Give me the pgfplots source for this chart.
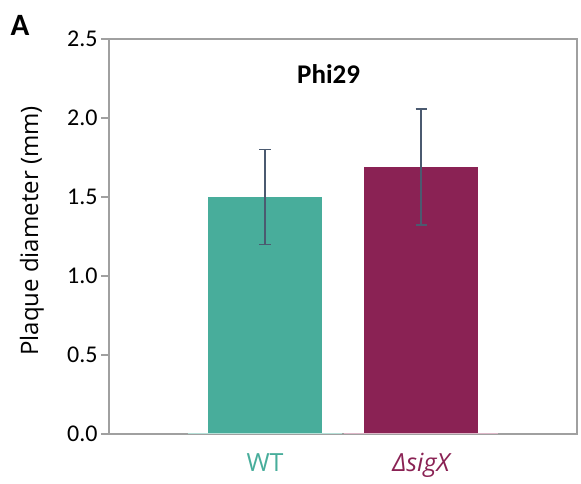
\documentclass[border=0pt]{standalone}
\usepackage{fontspec}
\setmainfont{Open Sans}
\newfontfamily\calib{Carlito}
\usepackage{pgfplots}
\pgfplotsset{compat=1.18}
\definecolor{wtcol}{HTML}{48AD9B}
\definecolor{sigcol}{HTML}{8A2254}
\definecolor{wtlight}{HTML}{B7E0D8}
\definecolor{siglight}{HTML}{DDB8C8}
\definecolor{axgray}{HTML}{A0A0A0}
\definecolor{errcol}{HTML}{4B5A70}
\begin{document}
\begin{tikzpicture}[x=1bp,y=1bp]
\begin{axis}[
  at={(0,0)}, anchor=south west,
  scale only axis, width=468bp, height=395bp,
  xmin=-1, xmax=2, ymin=0, ymax=2.5,
  axis line style={axgray, line width=1.2bp},
  xtick={0,1}, xticklabels={{\color{wtcol}WT},{\color{sigcol}\itshape ΔsigX}},
  xtick style={draw=none},
  xticklabel style={font=\fontsize{25bp}{30bp}\selectfont, yshift=-8bp},
  ytick={0,0.5,1,1.5,2,2.5},
  ytick pos=left, tick align=outside, major tick length=8bp,
  ytick style={axgray, line width=1.2bp},
  yticklabel style={font=\calib\fontsize{24bp}{28bp}\selectfont, /pgf/number format/.cd, fixed, fixed zerofill, precision=1, assume math mode=true},
  ylabel={Plaque diameter (mm)},
  ylabel style={font=\fontsize{24bp}{29bp}\selectfont, at={(axis description cs:-0.165,0.514)}, anchor=center},
  ybar, bar width=0.731, bar shift=0pt,
  clip=false,
]
\addplot[draw=none, fill=wtcol, bar shift=0pt, error bars/.cd, y dir=both, y explicit,
  error bar style={errcol, line width=1.2bp},
  error mark options={errcol, rotate=90, mark size=5.5bp, line width=1.2bp}]
  coordinates {(0,1.50) +- (0,0.30)};
\addplot[draw=none, fill=sigcol, bar shift=0pt, error bars/.cd, y dir=both, y explicit,
  error bar style={errcol, line width=1.2bp},
  error mark options={errcol, rotate=90, mark size=5.5bp, line width=1.2bp}]
  coordinates {(1,1.69) +- (0,0.367)};
\addplot[sharp plot, wtlight, line width=1.2bp] coordinates {(-0.494,0.004) (0.494,0.004)};
\addplot[sharp plot, siglight, line width=1.2bp] coordinates {(0.506,0.004) (1.494,0.004)};
\node[font=\calib\bfseries\fontsize{27bp}{32bp}\selectfont] at (axis cs:0.408,2.28) {Phi29};
\end{axis}
\node[font=\calib\bfseries\fontsize{31bp}{36bp}\selectfont] at (-89bp,408.5bp) {A};
\pgfresetboundingbox
\path[use as bounding box] (-109bp,-50bp) rectangle (472bp,434bp);
\end{tikzpicture}
\end{document}
